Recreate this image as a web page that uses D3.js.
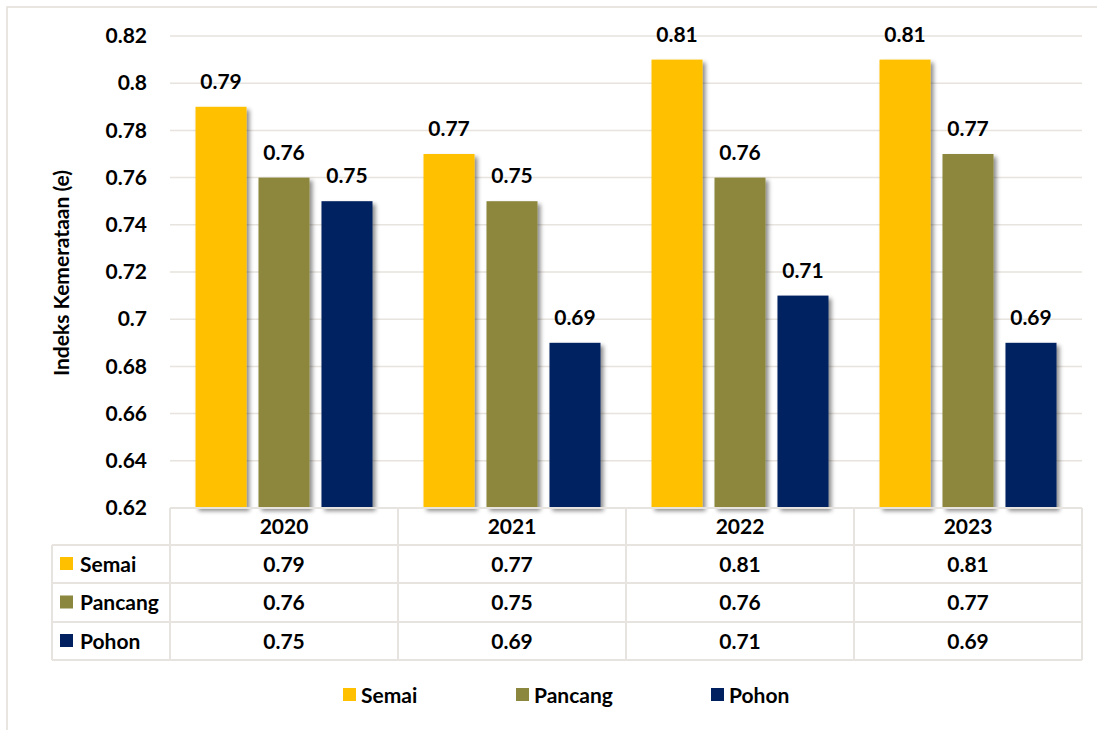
<!DOCTYPE html>
<html>
<head>
<meta charset="utf-8">
<script src="https://cdn.jsdelivr.net/npm/d3@7"></script>
<style>
  body { margin: 0; background: #fff; }
  svg text { font-family: Lato, "Open Sans", sans-serif; font-weight: 700; fill: #000; }
</style>
</head>
<body>
<div id="chart"></div>
<script>
// data
const years = ["2020", "2021", "2022", "2023"];
const seriesNames = ["Semai", "Pancang", "Pohon"];
const semai = [0.79, 0.77, 0.81, 0.81];
const pancang = [0.76, 0.75, 0.76, 0.77];
const pohon = [0.75, 0.69, 0.71, 0.69];
const yTicks = [0.62, 0.64, 0.66, 0.68, 0.7, 0.72, 0.74, 0.76, 0.78, 0.8, 0.82];
const colors = ["#FFC000", "#8C873E", "#002060"];

const seriesValues = [semai, pancang, pohon];

const width = 1097, height = 730;
const margin = { top: 36, left: 170, right: 15 };
const plotBottom = 508;
const gridColor = "#e7e3de";
const fs = 21;

const svg = d3.select("#chart").append("svg")
  .attr("width", width)
  .attr("height", height);

// soft shadow like the spreadsheet bars
const defs = svg.append("defs");
const filter = defs.append("filter").attr("id", "shadow")
  .attr("x", "-20%").attr("y", "-20%").attr("width", "150%").attr("height", "150%");
filter.append("feDropShadow")
  .attr("dx", 3).attr("dy", 3).attr("stdDeviation", 2.2)
  .attr("flood-color", "#000").attr("flood-opacity", 0.45);

// outer frame
svg.append("rect")
  .attr("x", 7).attr("y", 7)
  .attr("width", width + 20).attr("height", height + 20)
  .attr("fill", "none").attr("stroke", "#e2ded9").attr("stroke-width", 1.5);

const x0 = d3.scaleBand().domain(years).range([margin.left, width - margin.right]);
const x1 = d3.scaleBand().domain(seriesNames).range([0, x0.bandwidth()])
  .paddingInner(0.19).paddingOuter(0.405);
const y = d3.scaleLinear().domain([0.62, 0.82]).range([plotBottom, margin.top]);

// gridlines
svg.append("g").selectAll("line")
  .data(yTicks)
  .join("line")
  .attr("x1", margin.left).attr("x2", width - margin.right)
  .attr("y1", d => y(d)).attr("y2", d => y(d))
  .attr("stroke", gridColor).attr("stroke-width", 1.5);

// y axis labels
const yAxis = d3.axisLeft(y).tickValues(yTicks).tickSize(0).tickPadding(0)
  .tickFormat(d => d3.format("")(+d.toFixed(2)));
const yg = svg.append("g").attr("transform", "translate(147,0)").call(yAxis);
yg.select(".domain").remove();
yg.selectAll("text").attr("font-size", fs).attr("font-family", null);

// axis title
svg.append("text")
  .attr("transform", "translate(69," + 273 + ") rotate(-90)")
  .attr("text-anchor", "middle")
  .attr("font-size", 21)
  .text("Indeks Kemerataan (e)");

// bars
const groups = svg.append("g").selectAll("g")
  .data(years)
  .join("g")
  .attr("transform", d => "translate(" + x0(d) + ",0)");

const barData = (yr, i) => seriesNames.map((s, j) => ({ s, j, v: seriesValues[j][i] }));

groups.selectAll("rect")
  .data(barData)
  .join("rect")
  .attr("x", d => x1(d.s))
  .attr("width", x1.bandwidth())
  .attr("y", d => y(d.v))
  .attr("height", d => plotBottom - y(d.v))
  .attr("fill", d => colors[d.j])
  .attr("filter", "url(#shadow)");

groups.selectAll("text.lbl")
  .data(barData)
  .join("text")
  .attr("class", "lbl")
  .attr("x", d => x1(d.s) + x1.bandwidth() / 2)
  .attr("y", d => y(d.v) - 18)
  .attr("text-anchor", "middle")
  .attr("font-size", fs)
  .text(d => d.v.toFixed(2));

// data table
const rowTops = [508, 545, 583, 622, 660];
const tableLeft = 52;
const right = width - margin.right;
const tbl = svg.append("g").attr("stroke", gridColor).attr("stroke-width", 2).attr("fill", "none");

// horizontal lines
tbl.selectAll("line.h")
  .data(rowTops)
  .join("line")
  .attr("class", "h")
  .attr("x1", (d, i) => i === 0 ? margin.left : tableLeft)
  .attr("x2", right)
  .attr("y1", d => d).attr("y2", d => d);

// vertical lines
const vx = [margin.left].concat(years.map(yr => x0(yr) + x0.bandwidth()));
tbl.selectAll("line.v")
  .data(vx)
  .join("line")
  .attr("class", "v")
  .attr("x1", d => d).attr("x2", d => d)
  .attr("y1", rowTops[0]).attr("y2", rowTops[4]);
tbl.append("line")
  .attr("x1", tableLeft).attr("x2", tableLeft)
  .attr("y1", rowTops[1]).attr("y2", rowTops[4]);

const rowMid = i => (rowTops[i] + rowTops[i + 1]) / 2;

// header
svg.append("g").selectAll("text")
  .data(years)
  .join("text")
  .attr("x", d => x0(d) + x0.bandwidth() / 2)
  .attr("y", rowMid(0))
  .attr("dy", "0.36em")
  .attr("text-anchor", "middle")
  .attr("font-size", fs)
  .text(d => d);

// rows
seriesNames.forEach((s, j) => {
  const cy = rowMid(j + 1);
  svg.append("rect")
    .attr("x", 60).attr("y", cy - 7).attr("width", 13).attr("height", 13)
    .attr("fill", colors[j]);
  svg.append("text")
    .attr("x", 80).attr("y", cy).attr("dy", "0.36em")
    .attr("font-size", fs)
    .text(s);
  svg.append("g").selectAll("text")
    .data(years)
    .join("text")
    .attr("x", d => x0(d) + x0.bandwidth() / 2)
    .attr("y", cy).attr("dy", "0.36em")
    .attr("text-anchor", "middle")
    .attr("font-size", fs)
    .text((d, i) => seriesValues[j][i].toFixed(2));
});

// legend
const legendX = [343, 516, 711];
const lg = svg.append("g").selectAll("g")
  .data(seriesNames)
  .join("g")
  .attr("transform", (d, i) => "translate(" + legendX[i] + ",695)");
lg.append("rect")
  .attr("x", 0).attr("y", -7).attr("width", 13).attr("height", 13)
  .attr("fill", (d, i) => colors[i]);
lg.append("text")
  .attr("x", 18).attr("dy", "0.36em")
  .attr("font-size", fs)
  .text(d => d);
</script>
</body>
</html>
